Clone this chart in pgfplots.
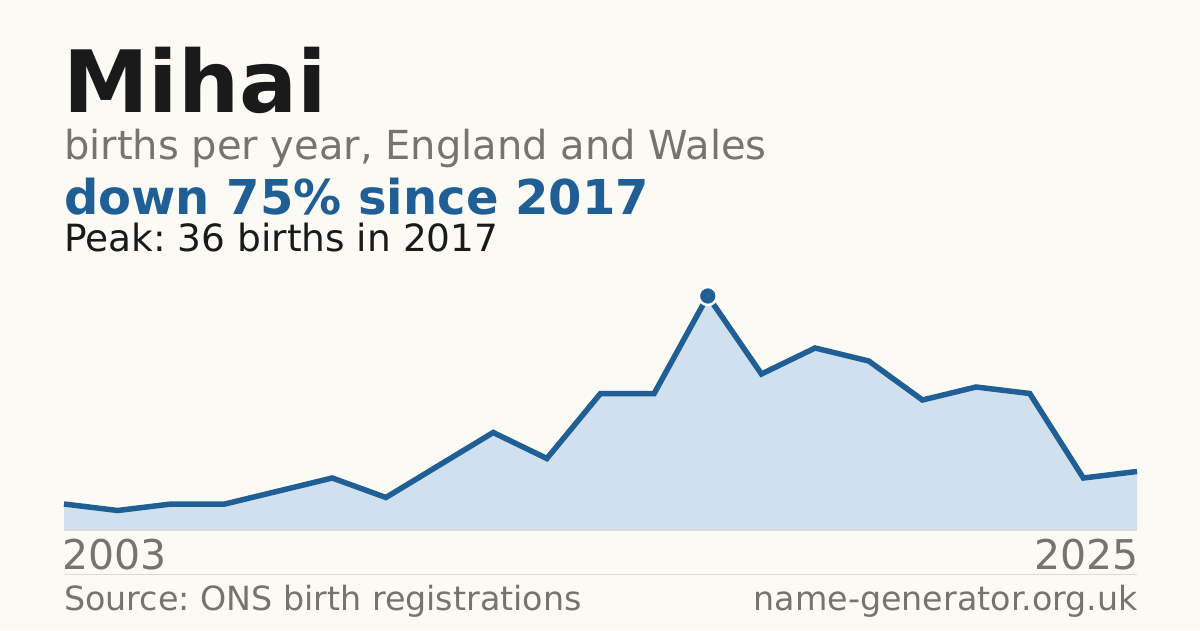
\documentclass[border=0pt]{standalone}
\usepackage{fontspec}
\setmainfont{DejaVu Sans}
\usepackage{pgfplots}
\usepackage{pgfplotstable}
\pgfplotsset{compat=1.18}
\frenchspacing

\definecolor{bg}{HTML}{FBFAF5}
\definecolor{areafill}{HTML}{D0E0EF}
\definecolor{lineblue}{HTML}{1F5F96}
\definecolor{dark}{HTML}{1A1A1A}
\definecolor{greytext}{HTML}{77736D}
\definecolor{rule}{HTML}{DDDAD3}

% births per year, plotted by position (first point 2003, last 2025)
\pgfplotstableread{
idx births
0 4
1 3
2 4
3 4
4 6
5 8
6 5
7 10
8 15
9 11
10 21
11 21
12 36
13 24
14 28
15 26
16 20
17 22
18 21
19 8
20 9
}\births

\begin{document}
\begin{tikzpicture}[x=1pt,y=1pt]
  \fill[bg] (0,0) rectangle (1200,630);
  \useasboundingbox (0,0) rectangle (1200,630);

  % titles
  \node[anchor=base west, inner sep=0, text=dark] at (63,517)
    {\fontsize{86}{90}\selectfont\bfseries Mihai};
  \node[anchor=base west, inner sep=0, text=greytext] at (64,470)
    {\fontsize{40}{44}\selectfont births per year, England and Wales};
  \node[anchor=base west, inner sep=0, text=lineblue] at (64,415)
    {\fontsize{48}{52}\selectfont\bfseries down 75\% since 2017};
  \node[anchor=base west, inner sep=0, text=dark] at (64,378)
    {\fontsize{37.5}{42}\selectfont Peak: 36 births in 2017};

  \begin{axis}[
      at={(64pt,100pt)}, anchor=origin,
      scale only axis, width=1073pt, height=234pt,
      xmin=0, xmax=20, ymin=0, ymax=36,
      hide axis, clip=false,
    ]
    \addplot[fill=areafill, draw=none] table[x=idx, y=births]{\births} \closedcycle;
    \addplot[lineblue, line width=5.5pt] table[x=idx, y=births]{\births};
    \addplot[only marks, mark=*, mark size=9pt,
      mark options={fill=lineblue, draw=white, line width=2.5pt}]
      coordinates {(12,36)};
  \end{axis}

  \draw[rule, line width=1.2pt] (64,100) -- (1137,100);
  \draw[rule, line width=1pt] (64,56) -- (1137,56);

  % axis end labels
  \node[anchor=base west, inner sep=0, text=greytext] at (62,61)
    {\fontsize{41}{45}\selectfont 2003};
  \node[anchor=base east, inner sep=0, text=greytext] at (1139,61)
    {\fontsize{41}{45}\selectfont 2025};

  % footer
  \node[anchor=base west, inner sep=0, text=greytext] at (64,20)
    {\fontsize{33.3}{38}\selectfont Source: ONS birth registrations};
  \node[anchor=base east, inner sep=0, text=greytext] at (1138,20)
    {\fontsize{33.3}{38}\selectfont name-generator.org.uk};
\end{tikzpicture}
\end{document}
